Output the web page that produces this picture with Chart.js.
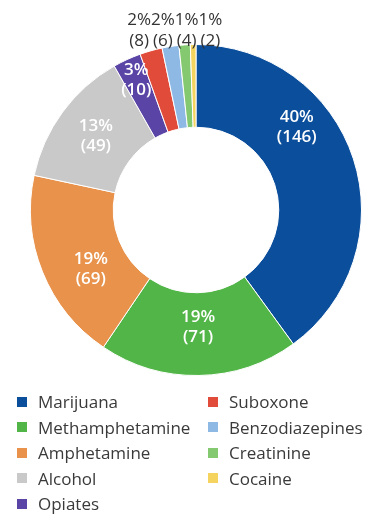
<!DOCTYPE html>
<html>
<head>
<meta charset="utf-8">
<script src="https://cdn.jsdelivr.net/npm/chart.js@4.4.0/dist/chart.umd.min.js"></script>
<style>
  html, body { margin: 0; padding: 0; background: #fff; }
  #wrap { position: relative; width: 369px; height: 514px; overflow: hidden; }
  #c { position: absolute; left: 0; top: 0; }
  #legend {
    position: absolute; left: 17px; top: 389px;
    display: grid; grid-auto-flow: column;
    grid-template-rows: repeat(5, 25.5px);
    grid-template-columns: 191px 160px;
    font-family: "Open Sans", sans-serif; font-size: 17px; color: #3a3a3a;
  }
  .item { display: flex; align-items: center; white-space: nowrap; }
  .sw { width: 10px; height: 10px; margin-right: 11px; flex: none; }
</style>
</head>
<body>
<div id="wrap">
  <canvas id="c" width="369" height="390"></canvas>
  <div id="legend"></div>
</div>
<script>
// ---- data ----
const categories = ["Marijuana", "Methamphetamine", "Amphetamine", "Alcohol", "Opiates",
                    "Suboxone", "Benzodiazepines", "Creatinine", "Cocaine"];
const counts = [146, 71, 69, 49, 10, 8, 6, 4, 2];
const colors = ["#0b4f9c", "#52b547", "#e8924b", "#c9c9c9", "#5a45a6",
                "#e04b3a", "#8fb9e5", "#84c96f", "#f4d35e"];

// label placement tweaks (fraction along slice, fraction across ring)
const labelPlacement = {
  0: { along: 0.35, radial: 0.58 },
  1: { along: 0.5, radial: 0.41 },
  2: { along: 0.39, radial: 0.46 },
  4: { along: 0.5, radial: 0.73 }
};

const sliceLabels = {
  id: 'sliceLabels',
  afterDatasetsDraw(chart) {
    const ctx = chart.ctx;
    const meta = chart.getDatasetMeta(0);
    const data = chart.data.datasets[0].data;
    const total = data.reduce((a, b) => a + b, 0);
    const outside = [];
    ctx.save();
    ctx.textAlign = 'center';
    ctx.textBaseline = 'middle';
    meta.data.forEach((arc, i) => {
      const p = arc.getProps(['x', 'y', 'startAngle', 'endAngle', 'innerRadius', 'outerRadius'], true);
      const pct = Math.round(data[i] / total * 100) + '%';
      const cnt = '(' + data[i] + ')';
      if (data[i] / total < 0.025) {
        outside.push({ ang: (p.startAngle + p.endAngle) / 2, p, pct, cnt });
        return;
      }
      const pl = labelPlacement[i] || {};
      const f = pl.along ?? 0.5, r = pl.radial ?? 0.5;
      const a = p.startAngle + (p.endAngle - p.startAngle) * f;
      const rad = p.innerRadius + (p.outerRadius - p.innerRadius) * r;
      const cx = p.x + Math.cos(a) * rad, cy = p.y + Math.sin(a) * rad;
      ctx.fillStyle = '#ffffff';
      ctx.font = '600 17px "Open Sans", sans-serif';
      ctx.fillText(pct, cx, cy - 10);
      ctx.fillText(cnt, cx, cy + 10);
    });
    // outside labels, spread horizontally above the ring
    ctx.font = '17px "Open Sans", sans-serif';
    ctx.fillStyle = '#333333';
    outside.forEach(o => {
      o.nx = o.p.x + Math.cos(o.ang) * o.p.outerRadius;
      o.w = Math.max(ctx.measureText(o.pct).width, ctx.measureText(o.cnt).width);
    });
    outside.sort((a, b) => a.nx - b.nx);
    let pos = [];
    outside.forEach((o, k) => {
      if (k === 0) pos.push(o.nx);
      else pos.push(Math.max(o.nx, pos[k - 1] + (outside[k - 1].w + o.w) / 2));
    });
    const meanN = outside.reduce((s, o) => s + o.nx, 0) / outside.length;
    const meanP = pos.reduce((s, v) => s + v, 0) / pos.length;
    outside.forEach((o, k) => {
      const x = pos[k] + (meanN - meanP);
      const y2 = o.p.y - o.p.outerRadius - 3;
      ctx.fillText(o.pct, x, y2 - 21);
      ctx.fillText(o.cnt, x, y2);
    });
    ctx.restore();
  }
};

const chart = new Chart(document.getElementById('c'), {
  type: 'doughnut',
  data: {
    labels: categories,
    datasets: [{
      data: counts,
      backgroundColor: colors,
      borderColor: '#ffffff',
      borderWidth: 1
    }]
  },
  options: {
    responsive: false,
    animation: false,
    cutout: '50%',
    rotation: 0,
    layout: { padding: { left: 30, right: 7, top: 44, bottom: 14 } },
    plugins: { legend: { display: false }, tooltip: { enabled: false } }
  },
  plugins: [sliceLabels]
});

// HTML legend built from the chart's data
const leg = document.getElementById('legend');
chart.data.labels.forEach((lab, i) => {
  const it = document.createElement('div');
  it.className = 'item';
  const sw = document.createElement('span');
  sw.className = 'sw';
  sw.style.background = chart.data.datasets[0].backgroundColor[i];
  const t = document.createElement('span');
  t.textContent = lab;
  it.appendChild(sw); it.appendChild(t);
  leg.appendChild(it);
});
</script>
</body>
</html>
